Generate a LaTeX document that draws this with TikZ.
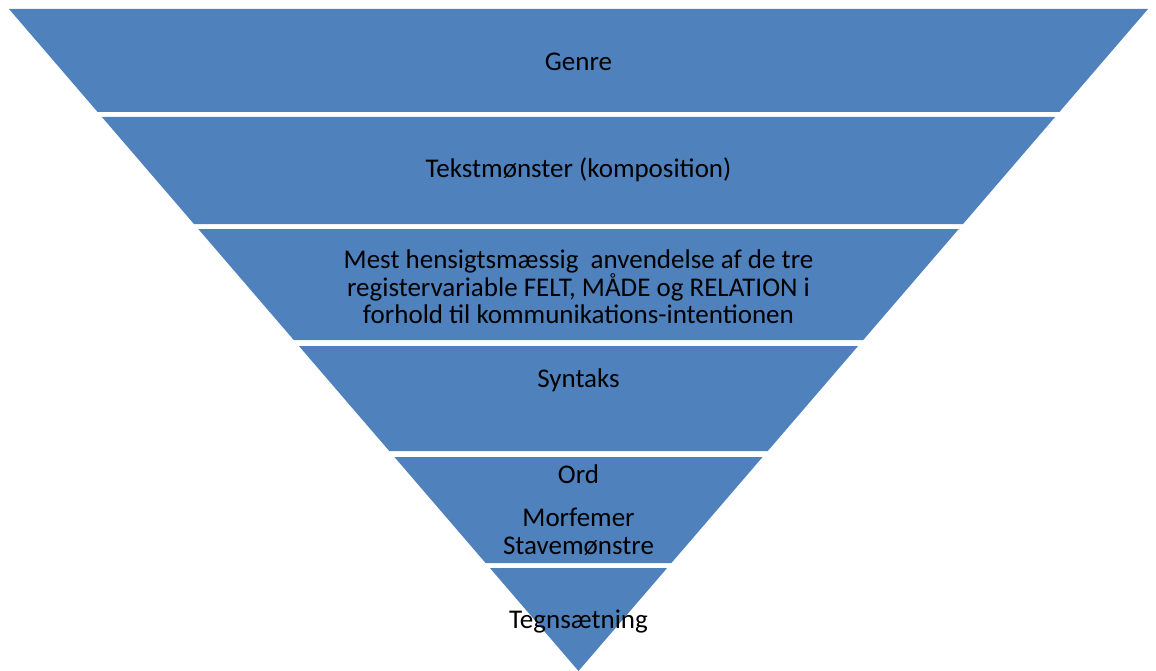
\documentclass[tikz,border=0pt]{standalone}
\usepackage{fontspec}
\setmainfont{Carlito}
\definecolor{bandblue}{HTML}{4F81BD}
\tikzset{
  band/.style={fill=bandblue, draw=none},
  lbl/.style={text=black, font=\fontsize{27}{28}\selectfont, align=center, inner sep=0pt},
  lblmulti/.style={text=black, font=\fontsize{27}{27.5}\selectfont, align=center, inner sep=0pt}
}
\begin{document}
\begin{tikzpicture}[x=1pt,y=-1pt]
\useasboundingbox (0,0) rectangle (1156,671);
% bands
\path[band] (9,9) -- (1148,9) -- (1059.39,112) -- (97.61,112) -- cycle;
\path[band] (101.91,117) -- (1055.09,117) -- (963.04,224) -- (193.96,224) -- cycle;
\path[band] (198.26,229) -- (958.74,229) -- (863.25,340) -- (293.75,340) -- cycle;
\path[band] (298.91,346) -- (858.09,346) -- (767.76,451) -- (389.24,451) -- cycle;
\path[band] (394.40,457) -- (762.60,457) -- (671.41,563) -- (485.59,563) -- cycle;
\path[band] (489.89,568) -- (667.11,568) -- (578.5,671) -- cycle;
% labels
\node[lbl] (genre) at (578.5,62) {Genre};
\node[lbl] (tekst) at (578.5,170) {Tekstmønster (komposition)};
\node[lblmulti] (register) at (578.5,287) {Mest hensigtsmæssig\ \ anvendelse af de tre\\registervariable FELT, MÅDE og RELATION i\\forhold til kommunikations-intentionen};
\node[lbl] (syntaks) at (578.5,380) {Syntaks};
\node[lbl] (ord) at (578.5,474) {Ord};
\node[lbl] (morf) at (578.5,517) {Morfemer};
\node[lbl] (stave) at (578.5,546) {Stavemønstre};
\node[lbl] (tegn) at (578.5,622) {Tegnsætning};
\end{tikzpicture}
\end{document}
